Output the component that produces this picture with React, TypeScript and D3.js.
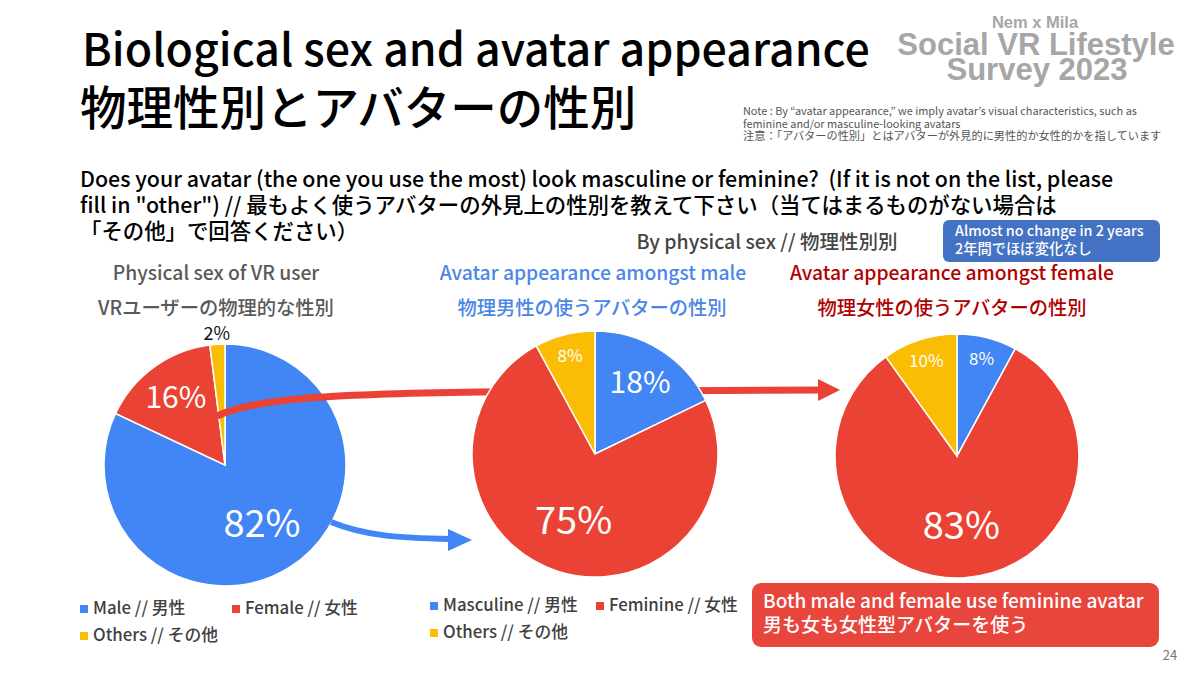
import * as d3 from 'd3';

// Physical sex of respondents
const sexCategories = ['Male // 男性', 'Female // 女性', 'Others // その他'];
const sexShare = [82, 16, 2];

// Avatar appearance by physical sex
const avatarCategories = ['Masculine // 男性', 'Feminine // 女性', 'Others // その他'];
const maleAvatarShare = [18, 75, 8];
const femaleAvatarShare = [8, 83, 10];

const colors = ['#4285F4', '#EA4335', '#FBBC04'];
const FONT = '"Noto Sans CJK JP", "Noto Sans", sans-serif';

const pies = [
  { cx: 225, cy: 465, r: 121, values: sexShare },
  { cx: 595, cy: 454, r: 123, values: maleAvatarShare },
  { cx: 957, cy: 456, r: 122, values: femaleAvatarShare },
];

function labelStyle(frac: number) {
  if (frac > 0.5) return { k: 0.57, size: 38, fill: '#fff' };
  if (frac > 0.12) return { k: 0.69, size: 30, fill: '#fff' };
  if (frac > 0.04) return { k: 0.82, size: 17, fill: '#fff' };
  return { k: 1.09, size: 18, fill: '#111' };
}

function Pie({ cx, cy, r, values }: { cx: number; cy: number; r: number; values: number[] }) {
  const pie = d3.pie<number>().sort(null).value((d) => d);
  const arcs = pie(values);
  const arc = d3.arc<d3.PieArcDatum<number>>().innerRadius(0).outerRadius(r);
  const total = d3.sum(values);
  return (
    <g transform={`translate(${cx},${cy})`}>
      {arcs.map((a, i) => (
        <path key={i} d={arc(a) ?? ''} fill={colors[i]} stroke="#fff" strokeWidth={1.5} />
      ))}
      {arcs.map((a, i) => {
        const s = labelStyle(a.value / total);
        const la = d3.arc<d3.PieArcDatum<number>>().innerRadius(r * s.k).outerRadius(r * s.k);
        const [x, y] = la.centroid(a);
        return (
          <text
            key={'l' + i}
            x={x}
            y={y}
            dy="0.36em"
            textAnchor="middle"
            fontSize={s.size}
            fontWeight={400}
            fill={s.fill}
          >
            {a.value}%
          </text>
        );
      })}
    </g>
  );
}

function arrowHead(tipX: number, tipY: number, len: number, half: number, color: string) {
  return (
    <path
      d={`M${tipX},${tipY} L${tipX - len},${tipY - half} L${tipX - len},${tipY + half} Z`}
      fill={color}
    />
  );
}

function Legend({ x, y, items, cols }: { x: number; y: number; items: string[]; cols: number[] }) {
  return (
    <g>
      {items.map((t, i) => {
        const col = i % 2;
        const row = Math.floor(i / 2);
        const lx = x + cols[col];
        const ly = y + row * 27;
        return (
          <g key={i}>
            <rect x={lx} y={ly - 9} width={8} height={8} fill={colors[i]} />
            <text x={lx + 13} y={ly} fontSize={16.8} fill="#404040">
              {t}
            </text>
          </g>
        );
      })}
    </g>
  );
}

export default function App() {
  return (
    <svg
      width={1200}
      height={675}
      style={{ position: 'fixed', left: 0, top: 0, background: '#fff' }}
      fontFamily={FONT}
      fontWeight={500}
    >
      <rect width={1200} height={675} fill="#fff" />

      {/* Title */}
      <text x={82} y={66} fontSize={44.7} fill="#000">
        Biological sex and avatar appearance
      </text>
      <text x={80} y={125} fontSize={46.5} fill="#000">
        物理性別とアバターの性別
      </text>

      {/* Logo */}
      <g fontFamily='"Liberation Sans", Arial, sans-serif' fontWeight="bold" fill="#a6a6a6" textAnchor="middle">
        <text x={1035} y={28} fontSize={16.5}>Nem x Mila</text>
        <text x={1036} y={55} fontSize={31}>Social VR Lifestyle</text>
        <text x={1037} y={80} fontSize={31}>Survey 2023</text>
      </g>

      {/* Note */}
      <g fill="#555" fontWeight={400}>
        <text x={743} y={115} fontSize={10.9}>Note : By “avatar appearance,” we imply avatar’s visual characteristics, such as</text>
        <text x={743} y={127.5} fontSize={10.9}>feminine and/or masculine-looking avatars</text>
        <text x={743} y={140} fontSize={11.2}>注意：「アバターの性別」とはアバターが外見的に男性的か女性的かを指しています</text>
      </g>

      {/* Question */}
      <g fontSize={21.4} fill="#000">
        <text x={80} y={187} xmlSpace="preserve">
          {'Does your avatar (the one you use the most) look masculine or feminine?\u00a0 (If it is not on the list, please'}
        </text>
        <text x={80} y={213}>
          fill in "other") // 最もよく使うアバターの外見上の性別を教えて下さい（当てはまるものがない場合は
        </text>
        <text x={80} y={239}>「その他」で回答ください）</text>
      </g>

      <text x={767} y={249} fontSize={19.5} fill="#444" textAnchor="middle">
        By physical sex // 物理性別別
      </text>

      {/* Blue note box */}
      <rect x={943} y={220} width={217} height={42} rx={6} fill="#4472C4" />
      <text x={955} y={236} fontSize={14.3} fill="#fff">Almost no change in 2 years</text>
      <text x={955} y={254} fontSize={14.3} fill="#fff">2年間でほぼ変化なし</text>

      {/* Subtitles */}
      <g fontSize={19.3} textAnchor="middle">
        <text x={216} y={280} fill="#595959">Physical sex of VR user</text>
        <text x={216} y={315} fill="#595959">VRユーザーの物理的な性別</text>
        <text x={593} y={280} fill="#4a86e8">Avatar appearance amongst male</text>
        <text x={592} y={315} fill="#4a86e8">物理男性の使うアバターの性別</text>
        <text x={952} y={280} fill="#b00000">Avatar appearance amongst female</text>
        <text x={952} y={315} fill="#b00000">物理女性の使うアバターの性別</text>
      </g>

      <Pie {...pies[0]} />

      {/* Arrows */}
      <path d="M217,416 C250,400 320,394 480,392 L822,390" fill="none" stroke={colors[1]} strokeWidth={7} />
      {arrowHead(840, 390, 22, 11, colors[1])}
      <path d="M331,522 C365,536 400,538 450,539" fill="none" stroke={colors[0]} strokeWidth={6} />
      {arrowHead(472, 540, 24, 11, colors[0])}

      <Pie {...pies[1]} />
      <Pie {...pies[2]} />

      <Legend x={80} y={614} items={sexCategories} cols={[0, 152]} />
      <Legend x={430} y={611} items={avatarCategories} cols={[0, 166]} />

      {/* Conclusion box */}
      <rect x={752} y={583} width={407} height={64} rx={9} fill="#E8453C" />
      <text x={763} y={608} fontSize={19} fill="#fff">Both male and female use feminine avatar</text>
      <text x={763} y={632} fontSize={19} fill="#fff">男も女も女性型アバターを使う</text>

      <text x={1170} y={660} fontSize={13} fill="#777" textAnchor="middle" fontWeight={400}>24</text>
    </svg>
  );
}
